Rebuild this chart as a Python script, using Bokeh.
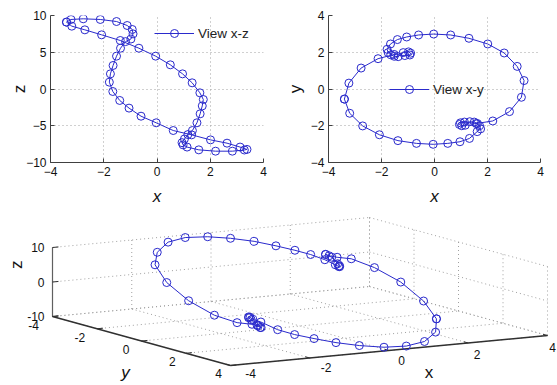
import numpy as np
from bokeh.plotting import figure
from bokeh.layouts import column, row
from bokeh.models import Range1d, Legend, LegendItem, FixedTicker
from bokeh.embed import file_html
from bokeh.resources import INLINE
from bokeh.core.properties import value

# ---------------- data (read from the three views) ----------------
x = [-3.40, -3.23, -2.77, -2.13, -1.52, -1.12, -0.93, -0.90, -0.98, -1.18, -1.37, -1.52, -1.65, -1.75, -1.79,
     -1.66, -1.40, -1.05, -0.60, -0.03, 0.61, 1.30, 2.01, 2.63, 3.12, 3.38,
     3.28, 2.83, 2.20, 1.57, 1.13, 0.98, 0.94, 1.03, 1.16, 1.33, 1.50, 1.62, 1.70, 1.74,
     1.61, 1.32, 0.96, 0.50, -0.05, -0.68, -1.38, -2.08, -2.71, -3.20, -3.40]
y = [-0.55, 0.32, 1.14, 1.65, 1.88, 1.82, 1.85, 1.95, 2.02, 1.98, 1.76, 1.78, 1.86, 1.98, 2.16,
     2.45, 2.69, 2.83, 2.94, 2.99, 2.94, 2.76, 2.45, 1.96, 1.23, 0.46,
     -0.45, -1.23, -1.74, -1.88, -1.80, -1.84, -1.93, -2.00, -1.97, -1.78, -1.80, -1.88, -2.00, -2.17,
     -2.32, -2.69, -2.87, -2.96, -3.01, -2.96, -2.81, -2.49, -2.01, -1.32, -0.55]
z = [9.10, 9.46, 9.55, 9.46, 9.18, 8.64, 8.10, 7.50, 6.80, 6.45, 5.55, 4.47, 3.20, 2.06, 0.93,
     -0.34, -1.56, -2.60, -3.70, -4.60, -5.65, -6.24, -6.92, -7.37, -7.90, -8.22,
     -8.30, -8.46, -8.46, -8.28, -7.90, -7.60, -7.30, -6.80, -6.20, -5.65, -4.60, -3.38, -2.30, -1.43,
     -0.52, 0.84, 2.06, 3.29, 4.47, 5.55, 6.60, 7.37, 8.05, 8.55, 9.10]

ticks_xy = [-4, -2, 0, 2, 4]
ticks_z2 = [-10, -5, 0, 5, 10]
ticks_z3 = [-10, 0, 10]
legend_xz = "View x-z"
legend_xy = "View x-y"

BLUE = "#2a2acc"
GRID = "#a0a0a0"
FONT = "Liberation Sans"


def style(p, xt, yt, ylab_standoff):
    p.xaxis.ticker = FixedTicker(ticks=xt)
    p.yaxis.ticker = FixedTicker(ticks=yt)
    for ax in (p.xaxis[0], p.yaxis[0]):
        ax.axis_line_color = "#404040"
        ax.major_tick_line_color = "#404040"
        ax.major_tick_in = 4
        ax.major_tick_out = 0
        ax.minor_tick_line_color = None
        ax.major_label_text_font = FONT
        ax.major_label_text_font_size = "12px"
        ax.major_label_text_color = "#111111"
        ax.major_label_standoff = 4
        ax.axis_label_text_font = FONT
        ax.axis_label_text_font_size = "17px"
        ax.axis_label_text_color = "#111111"
    p.xaxis.axis_label_text_font_style = "italic"
    p.yaxis.axis_label_text_font_style = "normal"
    p.xaxis.axis_label_standoff = 8
    p.yaxis.axis_label_standoff = ylab_standoff
    p.grid.grid_line_color = GRID
    p.grid.grid_line_dash = "1 3"
    p.outline_line_color = None


def add_legend(p, renderers, label, loc):
    leg = Legend(items=[LegendItem(label=label, renderers=renderers)], location=loc,
                 border_line_color=None, background_fill_alpha=0, glyph_width=40, glyph_height=20,
                 label_text_font=FONT, label_text_font_size="13.5px", label_text_color="#222222",
                 padding=0, margin=0, label_standoff=4, spacing=0)
    p.add_layout(leg)


TOP_H = 208

# ---------------- top-left: x-z ----------------
p1 = figure(width=280, height=TOP_H, x_range=Range1d(-4, 4), y_range=Range1d(-10, 10),
            output_backend="svg", toolbar_location=None,
            min_border_left=50, min_border_right=17, min_border_top=15, min_border_bottom=46,
            x_axis_label="x", y_axis_label="z")
style(p1, ticks_xy, ticks_z2, -6)
l1 = p1.line(x, z, line_color=BLUE, line_width=1)
s1 = p1.scatter(x, z, marker="circle", size=8, fill_color=None, line_color=BLUE, line_width=1)
add_legend(p1, [l1, s1], legend_xz, (104, 119))

# ---------------- top-right: x-y ----------------
p2 = figure(width=277, height=TOP_H, x_range=Range1d(-4, 4), y_range=Range1d(-4, 4),
            output_backend="svg", toolbar_location=None,
            min_border_left=48, min_border_right=17, min_border_top=15, min_border_bottom=46,
            x_axis_label="x", y_axis_label="y")
style(p2, ticks_xy, ticks_xy, 3)
l2 = p2.line(x, y, line_color=BLUE, line_width=1)
s2 = p2.scatter(x, y, marker="circle", size=8, fill_color=None, line_color=BLUE, line_width=1)
add_legend(p2, [l2, s2], legend_xy, (61, 63))

# ---------------- bottom: 3-D view ----------------
W3, H3 = 557, 177
p3 = figure(width=W3, height=H3, x_range=Range1d(0, W3), y_range=Range1d(H3, 0),
            output_backend="svg", toolbar_location=None, min_border=0,
            x_axis_location=None, y_axis_location=None)
p3.xgrid.visible = False
p3.ygrid.visible = False
p3.outline_line_color = None

# box view: screen position of corner (x=-4, y=-4, z=-10) and screen shift per data unit
O3 = (52.0, 108.0)
EX = (317 / 8, -30 / 8)
EY = (178 / 8, 49 / 8)
EZ = (0.0, -69 / 20)


def proj(X, Y, Z):
    X = np.asarray(X, float); Y = np.asarray(Y, float); Z = np.asarray(Z, float)
    sx = O3[0] + (X + 4) * EX[0] + (Y + 4) * EY[0] + (Z + 10) * EZ[0]
    sy = O3[1] + (X + 4) * EX[1] + (Y + 4) * EY[1] + (Z + 10) * EZ[1]
    return sx, sy


# view in which the reference draws its curve (centre of the box on screen, shift per unit)
C3 = (293.3, 82.9)
VH = (-33.2, -9.45, 2.7)
VV = (-8.0, -18.5, -1.09)


def curve_proj(X, Y, Z):
    X = np.asarray(X, float); Y = np.asarray(Y, float); Z = np.asarray(Z, float)
    return (C3[0] + VH[0] * X + VH[1] * Y + VH[2] * Z,
            C3[1] + VV[0] * X + VV[1] * Y + VV[2] * Z)


# dotted grid on back walls and floor
gx, gy = [], []
def seg(a, b):
    sa = proj(*a); sb = proj(*b)
    gx.append([float(sa[0]), float(sb[0])]); gy.append([float(sa[1]), float(sb[1])])

for t in ticks_xy:
    seg((t, -4, -10), (t, -4, 10))
    seg((4, t, -10), (4, t, 10))
    seg((t, -4, -10), (t, 4, -10))
    seg((-4, t, -10), (4, t, -10))
for t in ticks_z3:
    seg((-4, -4, t), (4, -4, t))
    seg((4, -4, t), (4, 4, t))
p3.multi_line(gx, gy, line_color=GRID, line_dash="1 3", line_width=1)


def axline(a, b, color, w):
    sa = proj(*a); sb = proj(*b)
    p3.line([float(sa[0]), float(sb[0])], [float(sa[1]), float(sb[1])], line_color=color, line_width=w)

axline((-4, -4, -10), (-4, -4, 10), "#606060", 1.2)
axline((-4, -4, -10), (-4, 4, -10), "#303030", 1.5)
axline((-4, 4, -10), (4, 4, -10), "#303030", 1.5)

tx0, ty0, tx1, ty1 = [], [], [], []
lab_x, lab_y, lab_t, lab_align = [], [], [], []
for t in ticks_z3:
    a = proj(-4, -4, t); b = proj(-3.85, -4, t)
    tx0.append(float(a[0])); ty0.append(float(a[1])); tx1.append(float(b[0])); ty1.append(float(b[1]))
    lab_x.append(float(a[0]) - 8); lab_y.append(float(a[1])); lab_t.append(str(t)); lab_align.append("right")
for t in ticks_xy:
    a = proj(-4, t, -10); b = proj(-3.85, t, -10)
    f = (t + 4) / 8
    tx0.append(float(a[0])); ty0.append(float(a[1])); tx1.append(float(b[0])); ty1.append(float(b[1]))
    lab_x.append(float(a[0]) - 19 + 7 * f); lab_y.append(float(a[1]) + 9 - f); lab_t.append(str(t)); lab_align.append("center")
for t in ticks_xy:
    a = proj(t, 4, -10); b = proj(t, 3.8, -10)
    f = (t + 4) / 8
    tx0.append(float(a[0])); ty0.append(float(a[1])); tx1.append(float(b[0])); ty1.append(float(b[1]))
    lab_x.append(float(a[0]) + 20 - 15 * f); lab_y.append(float(a[1]) + 8 + 4 * f); lab_t.append(str(t)); lab_align.append("center")
p3.segment(tx0, ty0, tx1, ty1, line_color="#303030", line_width=1)
p3.text(x=lab_x, y=lab_y, text=lab_t, text_align=lab_align, text_baseline="middle",
        text_font=value(FONT), text_font_size=value("12px"), text_color="#111111")

zl = proj(-4, -4, 5)
p3.text(x=[float(zl[0]) - 36], y=[float(zl[1])], text=["z"], angle=np.pi / 2,
        text_align="center", text_baseline="middle", text_font=value(FONT),
        text_font_size=value("17px"), text_color="#111111")
yl = proj(-4, 0, -10)
p3.text(x=[float(yl[0]) - 16], y=[float(yl[1]) + 31], text=["y"], text_align="center",
        text_baseline="middle", text_font=value(FONT), text_font_size=value("17px"),
        text_font_style="italic", text_color="#111111")
xl = proj(0, 4, -10)
p3.text(x=[float(xl[0]) + 40], y=[float(xl[1]) + 22], text=["x"], text_align="center",
        text_baseline="middle", text_font=value(FONT), text_font_size=value("17px"),
        text_color="#111111")

cx, cy = curve_proj(x, y, z)
p3.line(cx, cy, line_color=BLUE, line_width=1)
p3.scatter(cx, cy, marker="circle", size=8, fill_color=None, line_color=BLUE, line_width=1)

layout = column(row(p1, p2), p3)
open("out.html", "w").write(file_html(layout, INLINE))
